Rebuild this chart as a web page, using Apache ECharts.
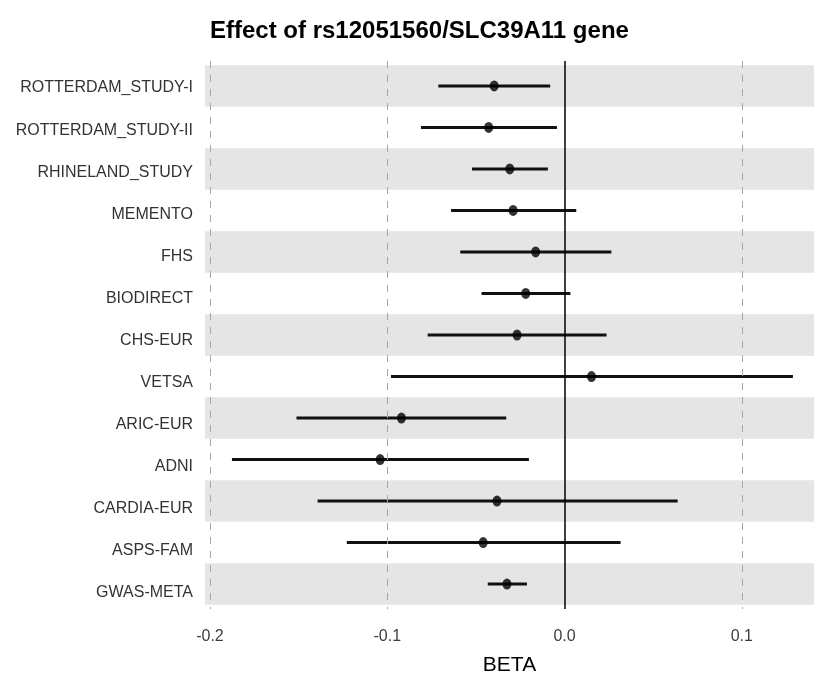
<!DOCTYPE html>
<html>
<head>
<meta charset="utf-8">
<script src="https://cdn.jsdelivr.net/npm/echarts@6/dist/echarts.min.js"></script>
<style>
  html, body { margin: 0; padding: 0; background: #fff; }
  #main { width: 814px; height: 681px; }
</style>
</head>
<body>
<div id="main"></div>
<script>
// studies, top to bottom
var studies = ['ROTTERDAM_STUDY-I', 'ROTTERDAM_STUDY-II', 'RHINELAND_STUDY', 'MEMENTO', 'FHS',
  'BIODIRECT', 'CHS-EUR', 'VETSA', 'ARIC-EUR', 'ADNI', 'CARDIA-EUR', 'ASPS-FAM', 'GWAS-META'];
var beta  = [-0.0397, -0.0428, -0.0309, -0.0290, -0.0163, -0.0219, -0.0268, 0.0152, -0.0920, -0.1040, -0.0381, -0.0459, -0.0325];
var lower = [-0.0712, -0.0810, -0.0522, -0.0640, -0.0588, -0.0468, -0.0772, -0.0979, -0.1512, -0.1876, -0.1393, -0.1228, -0.0433];
var upper = [-0.0081, -0.0043, -0.0094, 0.0066, 0.0264, 0.0033, 0.0237, 0.1288, -0.0329, -0.0201, 0.0638, 0.0316, -0.0212];
var xTicks = [-0.2, -0.1, 0.0, 0.1];

var FONT = '"Liberation Sans", Arial, sans-serif';

var chart = echarts.init(document.getElementById('main'), null, { renderer: 'canvas' });

// grey bands on every other row
var bands = [];
for (var i = 0; i < studies.length; i += 2) {
  bands.push([{ yAxis: i - 0.5 }, { yAxis: i + 0.5 }]);
}

var pts = [], cis = [];
for (var i = 0; i < studies.length; i++) {
  pts.push([beta[i], i]);
  cis.push([lower[i], upper[i], i]);
}

var grids = [];
for (var i = 0; i < xTicks.length; i++) {
  if (xTicks[i] !== 0) grids.push({ xAxis: xTicks[i] });
}

var option = {
  animation: false,
  title: {
    text: 'Effect of rs12051560/SLC39A11 gene',
    left: 205, top: 14,
    textStyle: { fontFamily: FONT, fontSize: 24, fontWeight: 'bold', color: '#000' }
  },
  grid: [
    { left: 205, right: 0, top: 61, bottom: 66 },
    { left: 205, right: 0, top: 67, bottom: 67 }
  ],
  xAxis: [{
    type: 'value', gridIndex: 0,
    min: -0.2028, max: 0.1407,
    axisLine: { show: false }, axisTick: { show: false }, splitLine: { show: false },
    axisLabel: {
      customValues: xTicks, margin: 20,
      fontFamily: FONT, fontSize: 16, color: '#3d3d3d',
      formatter: function (v) { return v.toFixed(1); }
    },
    name: 'BETA', nameLocation: 'middle', nameGap: 46,
    nameTextStyle: { fontFamily: FONT, fontSize: 21, color: '#000' }
  }, {
    type: 'value', gridIndex: 1, show: false
  }],
  yAxis: [{
    type: 'value', gridIndex: 0, inverse: true,
    min: -0.6, max: 12.6, show: false
  }, {
    type: 'category', gridIndex: 1, inverse: true, data: studies, position: 'left',
    axisLine: { show: false, onZero: false }, axisTick: { show: false }, splitLine: { show: false },
    axisLabel: { margin: 12, fontFamily: FONT, fontSize: 16, color: '#333' }
  }],
  series: [{
    type: 'scatter', xAxisIndex: 0, yAxisIndex: 0, data: [], silent: true,
    markArea: { silent: true, itemStyle: { color: '#e5e5e5' }, data: bands },
    markLine: {
      silent: true, symbol: 'none', label: { show: false },
      lineStyle: { color: '#a6a6a6', type: [7, 7], width: 1 },
      data: grids
    }
  }, {
    type: 'scatter', xAxisIndex: 0, yAxisIndex: 0, data: [], silent: true,
    markLine: {
      silent: true, symbol: 'none', label: { show: false },
      lineStyle: { color: '#000', type: 'solid', width: 1.5 },
      data: [{ xAxis: 0 }]
    }
  }, {
    type: 'custom', xAxisIndex: 0, yAxisIndex: 0, data: cis, silent: true,
    renderItem: function (params, api) {
      var a = api.coord([api.value(0), api.value(2)]);
      var b = api.coord([api.value(1), api.value(2)]);
      return {
        type: 'line',
        shape: { x1: a[0], y1: a[1], x2: b[0], y2: b[1] },
        style: { stroke: '#111', lineWidth: 3 }
      };
    }
  }, {
    type: 'scatter', xAxisIndex: 0, yAxisIndex: 0, data: pts, silent: true,
    symbol: 'circle', symbolSize: [9, 11],
    itemStyle: { color: '#000' }
  }]
};
chart.setOption(option);
</script>
</body>
</html>
